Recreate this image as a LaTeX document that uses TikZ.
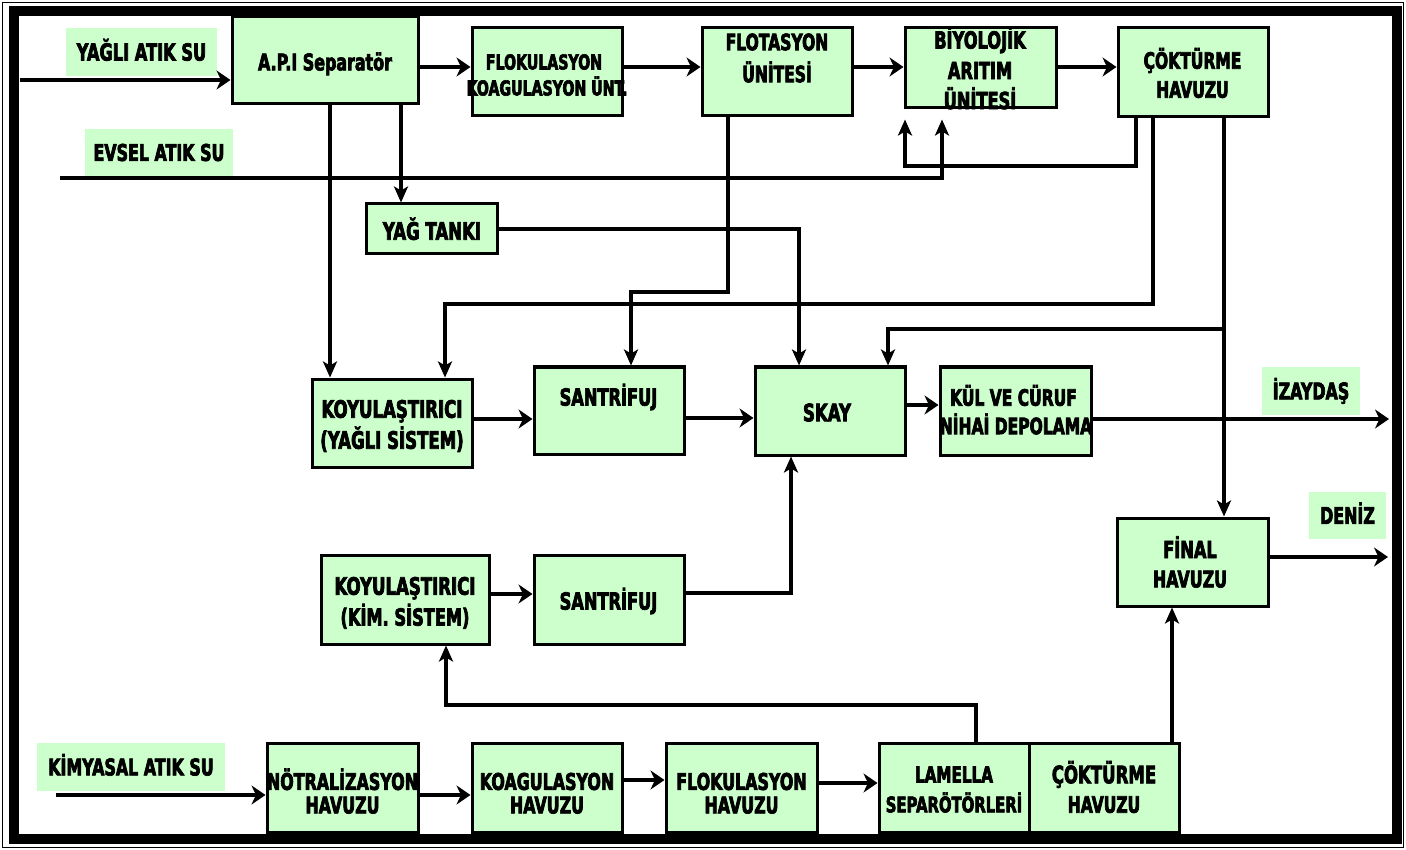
\documentclass[tikz,border=0pt]{standalone}
\usepackage{fontspec}
\newfontfamily\labfont[FakeStretch=0.69, BoldFeatures={FakeBold=3}]{DejaVu Sans}
\usetikzlibrary{arrows.meta}
\definecolor{boxgreen}{HTML}{CCFFCC}
\begin{document}
\begin{tikzpicture}[x=1pt,y=-1pt,
  box/.style={draw=black, line width=3pt, fill=boxgreen, inner sep=0pt},
  tag/.style={fill=boxgreen, inner sep=0pt},
  % caption text: size in pt, node height = cap height so the node centre is the cap middle
  tx/.code={\pgfmathsetmacro\capht{0.729*#1}%
    \edef\tmpopts{inner sep=0pt, text depth=0pt, text height=\capht pt}%
    \expandafter\tikzset\expandafter{\tmpopts}%
    \tikzset{font=\labfont\bfseries\fontsize{#1}{#1}\selectfont}},
  flow/.style={line width=4.8pt, -{Stealth[length=14pt,width=19pt,inset=4.5pt]}},
  linka/.style={line width=3.2pt, -{Stealth[length=16pt,width=14pt,inset=4pt]}}]

% page and frame
\useasboundingbox (0,0) rectangle (1406,850);
\fill[white] (0,0) rectangle (1406,850);
\draw[line width=1.4pt] (2.5,2.5) rectangle (1403.5,847.5);
\draw[line width=9.5pt] (14,11) rectangle (1397,839);

% source / destination tags
\node[tag, tx=23.5, minimum width=151pt, minimum height=48pt] (yagli) at (141.5,52) {YAĞLI ATIK SU};
\node[tag, tx=23, minimum width=148pt, minimum height=47pt] (evsel) at (159,152.5) {EVSEL ATIK SU};
\node[tag, tx=23, minimum width=188pt, minimum height=48pt] (kimya) at (131,767) {KİMYASAL ATIK SU};
\node[tag, tx=23, minimum width=98pt, minimum height=48pt] (izay) at (1311,391) {İZAYDAŞ};
\node[tag, tx=23, minimum width=77pt, minimum height=47pt] (deniz) at (1347.5,515.5) {DENİZ};

% process units
\node[box, minimum width=186pt, minimum height=87pt] (api) at (325,60.5) {};
\node[box, minimum width=150pt, minimum height=88pt] (flok) at (547,72) {};
\node[box, minimum width=150pt, minimum height=88pt] (flot) at (777,72) {};
\node[box, minimum width=151pt, minimum height=80pt] (biyo) at (980.5,68) {};
\node[box, minimum width=150pt, minimum height=89pt] (cok1) at (1193,72.5) {};
\node[box, minimum width=131pt, minimum height=50pt] (yag) at (431.5,229) {};
\node[box, minimum width=160pt, minimum height=88pt] (koy1) at (392,423) {};
\node[box, minimum width=150pt, minimum height=87pt] (sant1) at (609,410.5) {};
\node[box, minimum width=150pt, minimum height=88pt] (skay) at (830,411) {};
\node[box, minimum width=151pt, minimum height=88pt] (kul) at (1015.5,411) {};
\node[box, minimum width=168pt, minimum height=89pt] (koy2) at (405,599.5) {};
\node[box, minimum width=150pt, minimum height=89pt] (sant2) at (609,599.5) {};
\node[box, minimum width=151pt, minimum height=88pt] (fin) at (1192.5,562) {};
\node[box, minimum width=151pt, minimum height=89pt] (notr) at (342.5,787.5) {};
\node[box, minimum width=150pt, minimum height=89pt] (koag) at (547,787.5) {};
\node[box, minimum width=151pt, minimum height=89pt] (flokh) at (741.5,787.5) {};
\node[box, minimum width=150pt, minimum height=89pt] (lam) at (954,787.5) {};
\node[box, minimum width=150pt, minimum height=89pt] (cok2) at (1104,787.5) {};

% unit captions
\node[tx=23] (api-t) at (325,62) {A.P.I Separatör};
\node[tx=20.5] (flok-t1) at (544,62) {FLOKULASYON};
\node[tx=20.5] (flok-t2) at (547,88) {KOAGULASYON ÜNT.};
\node[tx=22.5] (flot-t1) at (777,42) {FLOTASYON};
\node[tx=22.5] (flot-t2) at (777,74) {ÜNİTESİ};
\node[tx=23.5] (biyo-t1) at (980,40) {BİYOLOJİK};
\node[tx=23.5] (biyo-t2) at (980,70.5) {ARITIM};
\node[tx=23.5] (biyo-t3) at (980,100.5) {ÜNİTESİ};
\node[tx=22.5] (cok1-t1) at (1192.5,60.5) {ÇÖKTÜRME};
\node[tx=22.5] (cok1-t2) at (1192.5,89.5) {HAVUZU};
\node[tx=24] (yag-t) at (432,231) {YAĞ TANKI};
\node[tx=24] (koy1-t1) at (392,409) {KOYULAŞTIRICI};
\node[tx=24] (koy1-t2) at (392,440) {(YAĞLI SİSTEM)};
\node[tx=23.5] (sant1-t) at (608.5,397) {SANTRİFUJ};
\node[tx=24] (skay-t) at (827,412.5) {SKAY};
\node[tx=22.5] (kul-t1) at (1013.5,397.5) {KÜL VE CÜRUF};
\node[tx=22.5] (kul-t2) at (1016,426) {NİHAİ DEPOLAMA};
\node[tx=24] (koy2-t1) at (405,586) {KOYULAŞTIRICI};
\node[tx=23.5] (koy2-t2) at (405,617) {(KİM. SİSTEM)};
\node[tx=23.5] (sant2-t) at (608.5,601) {SANTRİFUJ};
\node[tx=23.5] (fin-t1) at (1190,549.5) {FİNAL};
\node[tx=23] (fin-t2) at (1190,579) {HAVUZU};
\node[tx=23] (notr-t1) at (342.5,781.5) {NÖTRALİZASYON};
\node[tx=23] (notr-t2) at (342.5,805) {HAVUZU};
\node[tx=23] (koag-t1) at (547,781.5) {KOAGULASYON};
\node[tx=23] (koag-t2) at (547,805) {HAVUZU};
\node[tx=23] (flokh-t1) at (741.5,781.5) {FLOKULASYON};
\node[tx=23] (flokh-t2) at (741.5,805) {HAVUZU};
\node[tx=22] (lam-t1) at (954,774.5) {LAMELLA};
\node[tx=21.5] (lam-t2) at (954,804.5) {SEPARÖTÖRLERİ};
\node[tx=24] (cok2-t1) at (1104,774.5) {ÇÖKTÜRME};
\node[tx=22.5] (cok2-t2) at (1104,804.5) {HAVUZU};

% guide coordinates for connector rows and columns
\coordinate (yin) at (20,80);
\coordinate (evin) at (60,178);
\coordinate (kin) at (56,795);
\coordinate (izout) at (1389,419);
\coordinate (denout) at (1388,557);
\coordinate (biyo-in) at ([yshift=-10pt]biyo.south);
\foreach \r in {67,166,229,292,304,329,405,418,419,593,594,705,780,783,795}
  \coordinate (r\r) at (0,\r);
\foreach \c in {330,401,445,446,631,728,791,799,888,905,942,976,1136,1153,1172,1224}
  \coordinate (c\c) at (\c,0);

% oily line
\draw[flow] (yin) -- (yin -| api.west);
\draw[flow] (api.east |- r67) -- (flok.west |- r67);
\draw[flow] (flok.east |- r67) -- (flot.west |- r67);
\draw[flow] (flot.east |- r67) -- (biyo.west |- r67);
\draw[flow] (biyo.east |- r67) -- (cok1.west |- r67);

% domestic line and sludge returns
\draw[linka] (evin) -- (evin -| c942) -- (biyo-in -| c942);
\draw[linka] (cok1.south -| c1136) -- (c1136 |- r166) -- (c905 |- r166) -- (biyo-in -| c905);
\draw[linka] (api.south -| c330) -- (koy1.north -| c330);
\draw[linka] (api.south -| c401) -- (yag.north -| c401);
\draw[linka] (yag.east |- r229) -- (c799 |- r229) -- (skay.north -| c799);
\draw[linka] (flot.south -| c728) -- (c728 |- r292) -- (c631 |- r292) -- (sant1.north -| c631);
\draw[linka] (cok1.south -| c1153) -- (c1153 |- r304) -- (c445 |- r304) -- (koy1.north -| c445);
\draw[linka] (cok1.south -| c1224) -- (fin.north -| c1224);
\draw[linka] (c1224 |- r329) -- (c888 |- r329) -- (skay.north -| c888);

% sludge treatment
\draw[flow] (koy1.east |- r419) -- (sant1.west |- r419);
\draw[flow] (sant1.east |- r418) -- (skay.west |- r418);
\draw[flow] (skay.east |- r405) -- (kul.west |- r405);
\draw[flow] (kul.east |- izout) -- (izout);
\draw[flow] (koy2.east |- r594) -- (sant2.west |- r594);
\draw[linka] (sant2.east |- r593) -- (c791 |- r593) -- (skay.south -| c791);

% chemical line
\draw[flow] (kin) -- (kin -| notr.west);
\draw[flow] (notr.east |- r795) -- (koag.west |- r795);
\draw[flow] (koag.east |- r780) -- (flokh.west |- r780);
\draw[flow] (flokh.east |- r783) -- (lam.west |- r783);
\draw[linka] (lam.north -| c976) -- (c976 |- r705) -- (c446 |- r705) -- (koy2.south -| c446);
\draw[linka] (cok2.north -| c1172) -- (fin.south -| c1172);
\draw[flow] (fin.east |- denout) -- (denout);
\end{tikzpicture}
\end{document}
